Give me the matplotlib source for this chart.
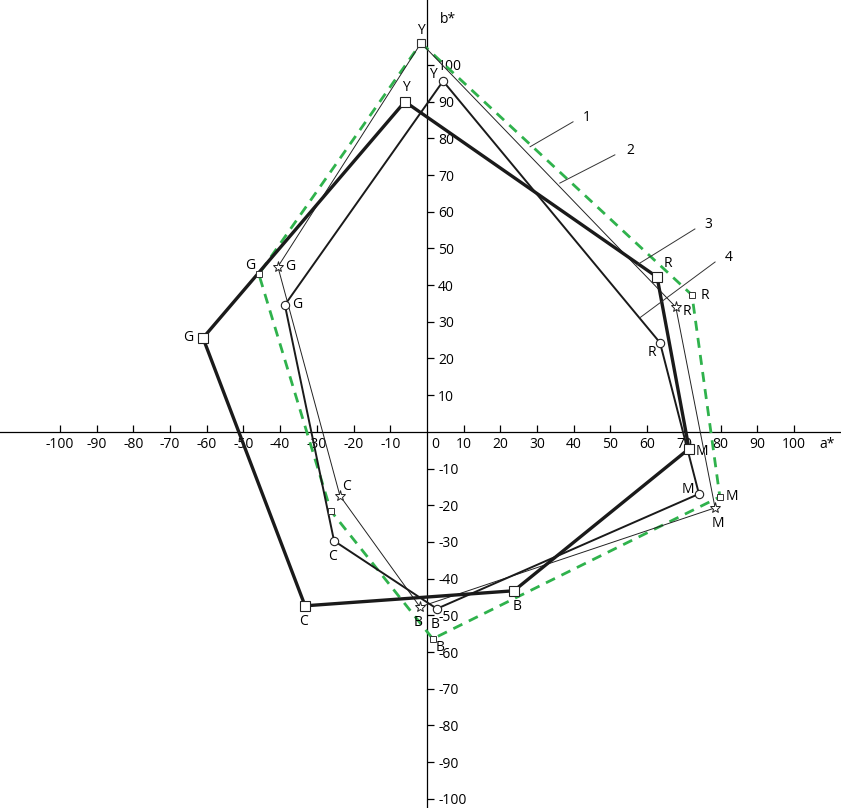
#!/usr/bin/env python3
"""Gamuts a*b* de quatro sistemas (1-4) — recriação da figura."""

import matplotlib
matplotlib.use("Agg")
import matplotlib.pyplot as plt

VERTS = ["Y", "R", "M", "B", "C", "G"]

# 1: verde tracejado, pequenos quadrados
A1 = [-1.6, 72.2, 79.8, 1.6, -26.2, -45.8]
B1 = [106.0, 37.3, -17.7, -56.4, -21.5, 43.0]
# 2: linha fina, estrelas
A2 = [-1.6, 67.8, 78.5, -1.9, -23.7, -40.6]
B2 = [106.0, 34.0, -20.7, -47.7, -17.4, 45.0]
# 3: linha grossa, quadrados
A3 = [-6.0, 62.7, 71.4, 23.7, -33.2, -61.0]
B3 = [90.0, 42.2, -4.6, -43.3, -47.4, 25.6]
# 4: linha média, círculos
A4 = [4.4, 63.5, 74.1, 2.7, -25.3, -38.7]
B4 = [95.6, 24.3, -16.9, -48.2, -29.7, 34.6]

TICKS = [t for t in range(-100, 101, 10) if t != 0]

GREEN = "#2fb24c"
FONT = ["Open Sans", "DejaVu Sans"]


def closed(v):
    return list(v) + [v[0]]


def main() -> None:
    plt.rcParams["font.family"] = FONT
    fig = plt.figure(figsize=(8.41, 8.08), dpi=100)
    ax = fig.add_axes([0, 0, 1, 1])
    ax.set_xlim(-116.3, 112.8)
    ax.set_ylim(-102.5, 117.7)

    for s in ("top", "left"):
        ax.spines[s].set_visible(False)
    ax.spines["bottom"].set_position(("data", 0))
    ax.spines["right"].set_position(("data", 0))
    ax.spines["bottom"].set_linewidth(0.9)
    ax.spines["right"].set_linewidth(0.9)
    ax.xaxis.set_ticks_position("bottom")
    ax.yaxis.set_ticks_position("right")
    ax.set_xticks(TICKS)
    ax.set_yticks(TICKS)
    ax.set_xticklabels([str(t) for t in TICKS])
    ax.set_yticklabels([str(t) for t in TICKS])
    ax.tick_params(axis="x", direction="in", length=5, width=0.9, pad=4, labelsize=10)
    ax.tick_params(axis="y", direction="out", length=5, width=0.9, pad=3, labelsize=10)
    ax.text(1.3, -1.5, "0", ha="left", va="top", fontsize=10)
    ax.text(109, -1.5, "a*", ha="center", va="top", fontsize=10)
    ax.text(3.5, 112.5, "b*", ha="left", va="center", fontsize=10)

    # polígonos
    ax.plot(closed(A1), closed(B1), color=GREEN, lw=2.0, dashes=(3.6, 2.6), zorder=3)
    ax.plot(closed(A2), closed(B2), color="#222222", lw=0.7, zorder=3)
    ax.plot(closed(A3), closed(B3), color="#1a1a1a", lw=2.4, zorder=3)
    ax.plot(closed(A4), closed(B4), color="#1a1a1a", lw=1.4, zorder=3)

    ax.plot(A2, B2, ls="none", marker="*", ms=8, mfc="white", mec="#222222", mew=0.7,
            markevery=slice(1, None), zorder=4)
    ax.plot(A1[1:], B1[1:], ls="none", marker="s", ms=4.5, mfc="white", mec="#333333", mew=0.7, zorder=5)
    ax.plot(A1[:1], B1[:1], ls="none", marker="s", ms=6, mfc="white", mec="#333333", mew=0.8, zorder=5)
    ax.plot(A4, B4, ls="none", marker="o", ms=6, mfc="white", mec="#222222", mew=0.8, zorder=5)
    ax.plot(A3, B3, ls="none", marker="s", ms=6.5, mfc="white", mec="#222222", mew=0.8, zorder=5)

    # rótulos dos vértices (deslocamentos em pontos)
    offs1 = {"Y": (0, 9), "R": (9, 0), "M": (9, 0), "B": (5, -6), "C": None, "G": (-6, 6)}
    offs2 = {"Y": None, "R": (8, -3), "M": (2, -11), "B": (-1, -11), "C": (5, 7), "G": (9, 0)}
    offs3 = {"Y": (1, 10), "R": (8, 10), "M": (9, -2), "B": (2, -11), "C": (-1, -11), "G": (-11, 0)}
    offs4 = {"Y": (-7, 5), "R": (-6, -7), "M": (-8, 3), "B": (-1, -11), "C": (-1, -11), "G": (9, 0)}
    for aa, bb, offs in ((A1, B1, offs1), (A2, B2, offs2), (A3, B3, offs3), (A4, B4, offs4)):
        for v, x, y in zip(VERTS, aa, bb):
            o = offs[v]
            if o is None:
                continue
            ax.annotate(v, (x, y), xytext=o, textcoords="offset points",
                        ha="center", va="center", fontsize=10, zorder=6)

    # chamadas 1-4
    calls = [
        ("1", (28.1, 77.7), (39.8, 84.5), (42.5, 85.8)),
        ("2", (36.2, 67.8), (51.2, 75.5), (54.2, 76.8)),
        ("3", (57.2, 45.5), (73.0, 55.3), (75.6, 56.6)),
        ("4", (58.0, 31.1), (78.5, 46.3), (81.2, 47.6)),
    ]
    for lab, p0, p1, pt in calls:
        ax.plot([p0[0], p1[0]], [p0[1], p1[1]], color="#333333", lw=0.7, zorder=4)
        ax.text(pt[0], pt[1], lab, ha="left", va="center", fontsize=10)

    fig.savefig("out.png", dpi=100, facecolor="white")
    plt.close(fig)


if __name__ == "__main__":
    main()
